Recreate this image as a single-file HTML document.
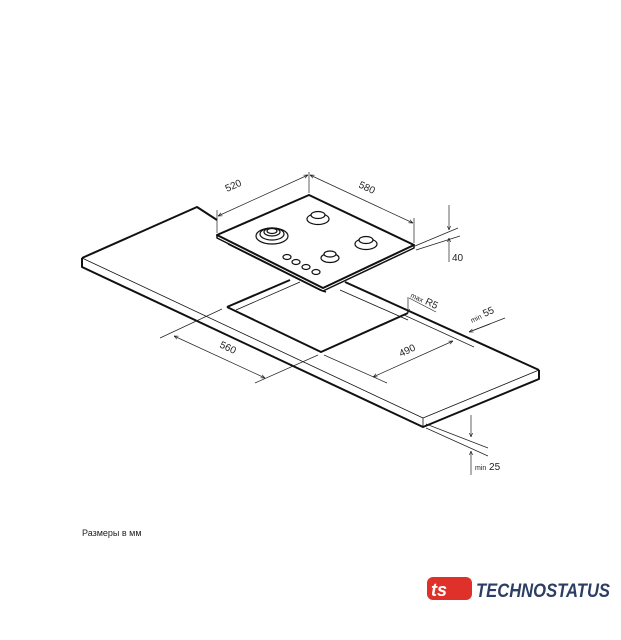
<!DOCTYPE html>
<html><head><meta charset="utf-8"><style>
html,body{margin:0;padding:0;background:#fff;width:621px;height:640px;overflow:hidden}
svg{display:block}
text{font-family:"Liberation Sans",sans-serif;fill:#222}
</style></head><body>
<svg width="621" height="640" viewBox="0 0 621 640" xmlns="http://www.w3.org/2000/svg">
<defs>
<marker id="a" viewBox="0 0 10 10" refX="10" refY="5" markerWidth="6" markerHeight="6" orient="auto-start-reverse"><path d="M0,1 L10,5 L0,9" fill="none" stroke="#222" stroke-width="1.5"/></marker>
</defs>
<g fill="none" stroke="#111" stroke-linejoin="round">
<!-- countertop -->
<polygon points="82,258 197,207 217,221 217,235 323,288 339,282 539,370 423,418" fill="#fff" stroke="none"/>
<path d="M82,258 L197,207 L217,220" stroke-width="2"/>
<path d="M82,258 L423,418 L539,370" stroke-width="0.8"/>
<path d="M82,258 L82,267 L423,427 L539,379 L539,370" stroke-width="2"/>
<path d="M423,418 L423,427" stroke-width="0.8"/>
<path d="M345,282 L539,370" stroke-width="2"/>
<path d="M340,290 L408,320" stroke-width="0.8"/>
<!-- cutout -->
<path d="M227,307 L290,280 M227,307 L321,352 L408,313" stroke-width="2"/>
<path d="M236,310 L300,282" stroke-width="0.8"/>
<!-- hob -->
<polygon points="217,235 309,195 414,245 323,288" fill="#fff" stroke-width="2"/>
<path d="M217,235 L217,238 L323,291 L414,248 L414,245" stroke-width="1.5"/>
<path d="M228,244 L320,290 L326,292" stroke-width="1.5"/>
<g stroke-width="1.2" fill="#fff">
<ellipse cx="272" cy="236" rx="16" ry="8"/><ellipse cx="272" cy="234" rx="12" ry="6"/><ellipse cx="272" cy="232" rx="8" ry="4"/><ellipse cx="272" cy="231" rx="5" ry="2.5"/>
<ellipse cx="318" cy="219" rx="11" ry="5.5"/><ellipse cx="318" cy="215" rx="7" ry="3.5"/>
<ellipse cx="366" cy="244" rx="11" ry="5.5"/><ellipse cx="366" cy="240" rx="7" ry="3.5"/>
<ellipse cx="330" cy="258" rx="9" ry="4.5"/><ellipse cx="330" cy="254" rx="6" ry="3"/>
<ellipse cx="287" cy="257" rx="4" ry="2.5"/><ellipse cx="296" cy="262" rx="4" ry="2.5"/><ellipse cx="306" cy="267" rx="4" ry="2.5"/><ellipse cx="316" cy="272" rx="4" ry="2.5"/>
</g>
</g>
<g fill="none" stroke="#222" stroke-width="0.7">
<!-- 520 / 580 -->
<path d="M217,233 V210 M309,193 V172 M414,243 V218"/>
<path d="M218,216 L308,175" marker-start="url(#a)" marker-end="url(#a)"/>
<path d="M310,175 L413,223" marker-start="url(#a)" marker-end="url(#a)"/>
<!-- 40 -->
<path d="M415,246 L458,228 M416,250 L460,236"/>
<path d="M449,205 V230" marker-end="url(#a)"/>
<path d="M449,262 V238" marker-end="url(#a)"/>
<!-- R5 -->
<path d="M408,297 V313" marker-end="url(#a)"/>
<path d="M409,298 L436,312"/>
<!-- min55 -->
<path d="M404,315 L474,347 M505,318 L469,332" />
<path d="M490,324 L469,332" marker-end="url(#a)"/>
<!-- 560 -->
<path d="M160,338 L222,309 M255,383 L318,355"/>
<path d="M174,336 L265,378" marker-start="url(#a)" marker-end="url(#a)"/>
<!-- 490 -->
<path d="M324,355 L387,383"/>
<path d="M373,377 L453,341" marker-start="url(#a)" marker-end="url(#a)"/>
<!-- min25 -->
<path d="M426,424 L488,448 M426,428 L488,456"/>
<path d="M471,415 V437" marker-end="url(#a)"/>
<path d="M471,475 V451" marker-end="url(#a)"/>
</g>
<g font-size="10">
<text transform="translate(227,192) rotate(-24)">520</text>
<text transform="translate(358,187) rotate(25)">580</text>
<text x="452" y="261">40</text>
<text transform="translate(410,297) rotate(25)"><tspan font-size="7">max</tspan> R5</text>
<text transform="translate(472,323) rotate(-25)"><tspan font-size="7">min</tspan> 55</text>
<text transform="translate(219,347) rotate(25)">560</text>
<text transform="translate(401,357) rotate(-25)">490</text>
<text x="475" y="470"><tspan font-size="7">min</tspan> 25</text>
<text x="82" y="536" font-size="9">Размеры в мм</text>
</g>
<!-- logo -->
<rect x="427" y="577" width="45" height="23" rx="6" fill="#e0302a"/>
<text x="431" y="596" font-size="18" font-weight="bold" font-style="italic" style="fill:#fff">ts</text>
<text x="476" y="597" font-size="19" font-weight="bold" font-style="italic" style="fill:#2c3e63" textLength="134" lengthAdjust="spacingAndGlyphs">TECHNOSTATUS</text>
</svg>
</body></html>
